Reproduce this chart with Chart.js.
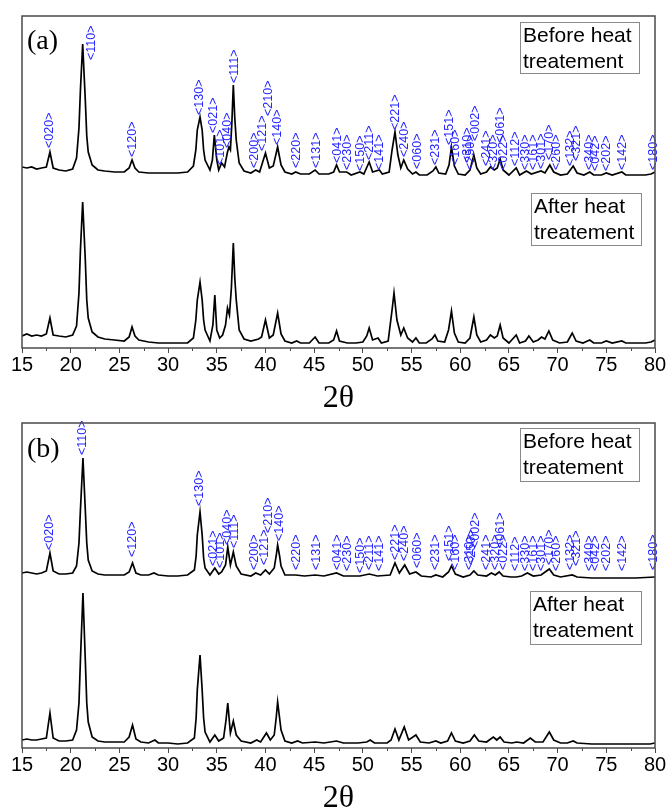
<!DOCTYPE html>
<html>
<head>
<meta charset="utf-8">
<script src="https://cdn.jsdelivr.net/npm/chart.js@4"></script>
<style>
  body { margin: 0; background: #fff; overflow: hidden; }
  canvas { position: absolute; left: 0; }
</style>
</head>
<body>
<canvas id="chartA" width="670" height="415" style="top:0"></canvas>
<canvas id="chartB" width="670" height="400" style="top:415px"></canvas>
<script>
// [2theta, intensity] (arbitrary units)
const aAfter = [[15.0,12],[15.5,14],[16.0,12],[16.5,13],[17.0,12],[17.5,14],[17.87,30],[18.2,13],[18.8,12],[19.5,11],
  [20.2,13],[20.6,22],[20.85,55],[21.0,98],[21.23,146],[21.5,88],[21.65,48],[21.8,30],[22.2,16],[22.8,11],[23.5,9],[24.5,8],
  [25.5,7],[26.0,11],[26.3,21],[26.6,12],[27.0,8],[28.0,6],[29.0,5],[30.0,5],[31.0,5],[32.0,5],
  [32.6,10],[32.85,28],[33.0,48],[33.28,66],[33.5,48],[33.65,28],[33.8,18],[34.3,7],[34.6,23],[34.8,53],[35.0,18],[35.3,10],
  [35.6,13],[35.9,23],[36.1,40],[36.3,33],[36.5,60],[36.7,105],[36.85,70],[37.0,48],[37.3,18],[37.8,9],[38.5,7],[39.3,9],
  [39.6,11],[40.0,28],[40.4,10],[40.8,13],[41.25,35],[41.6,14],[42.0,7],[42.7,5],[43.2,7],[43.6,5],
  [44.5,5],[45.1,11],[45.5,5],[46.5,5],[47.0,8],[47.3,17],[47.6,7],[48.4,5],[49.3,5],[50.0,6],
  [50.4,12],[50.65,20],[51.0,8],[51.56,10],[51.9,5],[52.6,7],[53.0,38],[53.2,55],[53.5,28],[53.9,13],
  [54.2,20],[54.6,10],[55.1,6],[55.45,10],[55.8,5],[56.5,5],[57.1,9],[57.4,13],[57.7,7],[58.4,6],
  [58.8,18],[59.1,37],[59.4,15],[59.8,6],[60.5,5],[61.0,10],[61.4,31],[61.7,13],[62.1,6],[62.7,8],
  [63.1,13],[63.5,10],[63.8,12],[64.1,23],[64.4,10],[65.0,5],[65.75,13],[66.1,5],[66.7,7],[67.05,12],
  [67.5,6],[68.0,8],[68.35,11],[68.7,9],[69.1,17],[69.5,8],[70.2,5],[71.0,6],[71.5,15],[71.9,7],
  [72.6,5],[73.3,8],[73.7,5],[74.5,5],[75.0,7],[75.6,5],[76.6,7],[77.0,5],[78.0,5],[79.0,5],[79.6,6],[80.0,8]];

const aBefore = [[15.0,11],[15.5,10],[16.0,11],[16.5,9],[17.0,10],[17.5,11],[17.87,26],[18.2,10],[18.8,8],[19.5,7],
  [20.2,9],[20.6,20],[20.85,50],[21.0,88],[21.23,134],[21.5,78],[21.65,42],[21.8,26],[22.2,13],[22.8,8],[23.5,7],[24.5,6],
  [25.5,6],[26.0,10],[26.3,18],[26.6,10],[27.0,6],[28.0,5],[29.0,5],[30.0,5],[31.0,5],[32.0,6],
  [32.6,12],[32.85,28],[33.0,48],[33.28,61],[33.5,48],[33.65,28],[33.8,18],[34.3,8],[34.55,18],[34.75,43],[35.0,18],[35.2,8],
  [35.5,15],[35.8,11],[36.1,26],[36.25,31],[36.4,28],[36.55,55],[36.7,93],[36.85,60],[37.0,38],[37.3,15],[37.8,7],[38.5,5],
  [39.0,8],[39.4,6],[40.0,25],[40.4,10],[40.8,12],[41.25,31],[41.6,13],[42.0,6],[42.7,4],[43.1,6],
  [43.6,4],[44.5,4],[45.1,8],[45.5,4],[46.5,4],[47.0,6],[47.3,13],[47.6,6],[48.35,6],[48.8,3],
  [49.7,6],[50.1,4],[50.65,16],[51.0,6],[51.7,8],[52.0,4],[52.7,6],[53.0,28],[53.3,46],[53.6,23],
  [53.9,10],[54.2,18],[54.6,9],[55.1,4],[55.45,6],[55.8,3],[56.6,3],[57.2,7],[57.5,11],[57.8,5],
  [58.5,4],[58.85,13],[59.1,31],[59.4,12],[59.8,4],[60.5,3],[61.0,8],[61.4,23],[61.7,10],[62.1,4],
  [62.7,6],[63.1,11],[63.5,8],[63.8,10],[64.1,19],[64.4,8],[65.0,3],[65.75,10],[66.1,3],[66.8,7],
  [67.3,4],[68.3,7],[68.7,5],[69.2,13],[69.6,6],[70.3,3],[71.0,4],[71.6,12],[72.0,5],[72.7,3],
  [73.3,6],[73.7,3],[74.5,3],[75.0,5],[75.6,3],[76.6,6],[77.0,3],[78.0,3],[79.0,3],[79.6,4],[80.0,6]];

const bAfter = [[15.0,8],[15.5,9],[16.0,8],[16.5,8],[17.0,9],[17.5,10],[17.87,35],[18.2,10],[18.8,7],[19.5,7],
  [20.2,8],[20.6,18],[20.85,45],[21.0,88],[21.26,155],[21.5,88],[21.65,45],[21.8,26],[22.2,11],[22.8,7],[23.5,6],[24.5,6],
  [25.5,6],[26.0,11],[26.35,23],[26.7,9],[27.2,6],[28.0,5],[28.65,8],[29.0,5],[30.0,5],[31.0,4],
  [32.0,5],[32.7,10],[32.88,30],[33.0,58],[33.28,93],[33.5,58],[33.65,30],[33.8,16],[34.3,6],[34.8,13],[35.2,7],[35.7,10],
  [35.95,28],[36.13,45],[36.4,15],[36.7,27],[37.0,13],[37.5,7],[38.5,5],[39.1,8],[39.5,6],[40.1,15],
  [40.5,8],[40.9,13],[41.1,30],[41.25,46],[41.45,30],[41.6,18],[42.0,7],[42.7,5],[43.3,7],[43.8,5],[45.1,6],[46.0,5],
  [47.3,7],[48.0,5],[49.5,5],[50.4,6],[50.75,8],[51.2,5],[52.5,5],[52.9,8],[53.3,19],[53.7,8],
  [54.25,21],[54.7,8],[55.45,13],[55.9,6],[56.8,5],[57.5,7],[58.0,5],[58.7,7],[59.1,15],[59.5,7],
  [60.3,5],[61.0,7],[61.45,13],[61.9,7],[62.7,6],[63.4,11],[63.75,8],[64.1,11],[64.5,6],[65.3,5],
  [65.8,6],[66.5,5],[67.2,10],[67.7,6],[68.5,6],[69.15,16],[69.6,8],[70.3,5],[71.0,5],[71.6,7],
  [72.0,5],[73.5,4],[75.0,4],[76.5,4],[78.0,4],[79.5,4],[80.0,5]];

const bBefore = [[15.0,5],[15.5,6],[16.0,5],[16.5,4],[17.0,5],[17.5,7],[17.87,25],[18.2,7],[18.8,4],[19.5,4],
  [20.2,5],[20.6,12],[20.85,35],[21.0,68],[21.26,120],[21.5,68],[21.65,35],[21.8,18],[22.2,7],[22.8,4],[23.5,3],[24.5,3],
  [25.5,3],[26.0,6],[26.35,15],[26.7,5],[27.2,3],[28.0,3],[28.55,5],[29.0,3],[30.0,2],[31.0,2],
  [32.0,3],[32.7,8],[32.88,22],[33.0,43],[33.28,66],[33.5,43],[33.65,20],[33.8,10],[34.3,3],[34.8,10],[35.2,4],[35.5,6],
  [35.9,13],[36.13,31],[36.4,13],[36.7,26],[37.0,12],[37.5,4],[38.5,2],[39.0,5],[39.5,3],[40.0,8],
  [40.4,4],[40.9,10],[41.1,22],[41.25,33],[41.45,22],[41.6,12],[42.0,3],[43.1,3],[44.0,2],[45.1,3],[46.0,2],[47.3,5],
  [48.0,2],[49.7,2],[50.65,4],[51.5,2],[52.8,3],[53.3,15],[53.75,5],[54.3,13],[54.8,4],[55.45,6],
  [56.0,2],[57.0,1],[57.5,3],[58.2,1],[58.8,6],[59.1,12],[59.5,4],[60.3,1],[61.0,3],[61.4,7],
  [61.8,3],[62.7,2],[63.2,5],[63.6,3],[64.0,6],[64.4,2],[65.2,1],[65.75,1],[66.3,2],[66.9,5],
  [67.5,2],[68.3,3],[69.15,9],[69.6,3],[70.3,1],[71.5,3],[72.0,1],[73.5,0],[75.0,0],[76.6,0],
  [78.0,0],[80.0,1]];

// Miller indices: [label, 2theta, level above the "before" trace]
const aPeaks = [['<020>',17.87,28],['<110>',22.1,116],['<120>',26.4,19],['<130>',33.2,61],['<021>',34.7,43],
  ['<101>',35.4,11],['<040>',36.1,28],['<111>',36.8,93],['<200>',38.9,8],['<121>',39.75,25],['<210>',40.3,60],
  ['<140>',41.25,31],['<220>',43.2,8],['<131>',45.25,8],['<041>',47.4,13],['<230>',48.4,6],['<150>',49.8,5],
  ['<211>',50.7,16],['<141>',51.7,6],['<221>',53.4,46],['<240>',54.3,19],['<060>',55.6,7],['<231>',57.5,11],
  ['<151>',58.95,31],['<160>',59.55,11],['<310>',60.7,13],['<250>',61.1,6],['<002>',61.6,35],['<241>',62.7,10],
  ['<320>',63.4,6],['<061>',64.1,33],['<022>',64.4,6],['<112>',65.7,10],['<330>',66.7,6],['<161>',67.5,6],
  ['<301>',68.35,7],['<170>',69.15,16],['<260>',69.85,6],['<132>',71.3,10],['<321>',71.9,15],['<340>',73.25,6],
  ['<042>',73.9,5],['<202>',75.0,5],['<142>',76.65,6],['<180>',79.9,6]];

const bPeaks = [['<020>',17.87,26],['<110>',21.26,121],['<120>',26.4,19],['<130>',33.28,70],['<021>',34.7,10],
  ['<101>',35.4,8],['<040>',36.1,31],['<111>',36.8,28],['<200>',38.9,6],['<121>',39.9,11],['<210>',40.3,43],
  ['<140>',41.4,35],['<220>',43.2,6],['<131>',45.25,6],['<041>',47.4,6],['<230>',48.4,5],['<150>',49.8,3],
  ['<211>',50.7,6],['<141>',51.7,5],['<221>',53.4,16],['<240>',54.3,15],['<060>',55.6,8],['<231>',57.5,6],
  ['<151>',58.95,15],['<160>',59.55,6],['<310>',60.95,6],['<250>',61.15,11],['<002>',61.6,28],['<241>',62.7,6],
  ['<320>',63.6,6],['<061>',64.1,28],['<022>',64.4,6],['<112>',65.7,5],['<330>',66.7,5],['<161>',67.5,5],
  ['<301>',68.35,5],['<170>',69.15,11],['<260>',69.85,5],['<132>',71.3,6],['<321>',71.9,10],['<340>',73.25,5],
  ['<042>',73.9,5],['<202>',75.0,5],['<142>',76.65,5],['<180>',79.9,6]];

const xTicks = [15, 20, 25, 30, 35, 40, 45, 50, 55, 60, 65, 70, 75, 80];
const legendLines = [['Before heat', 'treatement'], ['After heat', 'treatement']];

const BEFORE_OFFSET = 170;
const SANS = '"Liberation Sans", Arial, sans-serif';
const SERIF = '"Liberation Serif", "Times New Roman", serif';

const panelDecor = {
  id: 'panelDecor',
  afterDatasetsDraw(chart, args, opts) {
    const { ctx, chartArea: area, scales: { x, y } } = chart;
    ctx.save();

    // hkl labels, rotated
    ctx.fillStyle = '#2424ff';
    ctx.font = '12.5px ' + SANS;
    ctx.textAlign = 'left';
    ctx.textBaseline = 'middle';
    opts.peaks.forEach(([txt, pos, lvl]) => {
      ctx.save();
      ctx.translate(x.getPixelForValue(pos), y.getPixelForValue(lvl + BEFORE_OFFSET) - 2);
      ctx.rotate(-Math.PI / 2);
      ctx.fillText(txt, 0, 0);
      ctx.restore();
    });

    // frame
    ctx.strokeStyle = '#4a4a4a';
    ctx.lineWidth = 1.5;
    ctx.strokeRect(area.left, area.top, area.right - area.left, area.bottom - area.top);

    // minor ticks
    ctx.lineWidth = 1;
    for (let i = 0; i < xTicks.length - 1; i++) {
      const px = Math.round(x.getPixelForValue((xTicks[i] + xTicks[i + 1]) / 2)) + 0.5;
      ctx.beginPath();
      ctx.moveTo(px, area.bottom);
      ctx.lineTo(px, area.bottom + 3);
      ctx.stroke();
    }

    // panel tag
    ctx.fillStyle = '#000';
    ctx.font = '28px ' + SERIF;
    ctx.textBaseline = 'middle';
    ctx.fillText(opts.tag, area.left + 5, area.top + opts.tagDy);

    // legend boxes
    ctx.font = '21px ' + SANS;
    opts.boxes.forEach((b, i) => {
      ctx.strokeStyle = '#8a8a8a';
      ctx.lineWidth = 1;
      ctx.strokeRect(b.x + 0.5, b.y + 0.5, b.w, b.h);
      ctx.fillStyle = '#000';
      ctx.fillText(legendLines[i][0], b.x + 3, b.y + 14);
      ctx.fillText(legendLines[i][1], b.x + 3, b.y + 40);
    });
    ctx.restore();
  }
};

function toPoints(pairs, offset) {
  return pairs.map(([t, v]) => ({ x: t, y: v + offset }));
}

function makePanel(id, after, before, peaks, yMax, padTop, tag, tagDy, boxes) {
  return new Chart(document.getElementById(id), {
    type: 'line',
    data: {
      datasets: [
        { data: toPoints(before, BEFORE_OFFSET), borderColor: '#000', borderWidth: 1.7, pointRadius: 0, tension: 0 },
        { data: toPoints(after, 0), borderColor: '#000', borderWidth: 1.7, pointRadius: 0, tension: 0 }
      ]
    },
    options: {
      responsive: false,
      animation: false,
      devicePixelRatio: 1,
      layout: { padding: { left: 22, right: 15, top: padTop, bottom: 0 } },
      plugins: {
        legend: { display: false },
        tooltip: { enabled: false },
        panelDecor: { peaks, tag, tagDy, boxes }
      },
      scales: {
        x: {
          type: 'linear',
          min: 15,
          max: 80,
          afterBuildTicks: (s) => { s.ticks = xTicks.map((v) => ({ value: v })); },
          ticks: { color: '#000', font: { family: SANS, size: 20 }, padding: 0, maxRotation: 0, autoSkip: false },
          grid: { drawOnChartArea: false, tickLength: 5, color: '#4a4a4a' },
          border: { display: false },
          title: { display: true, text: '2θ', color: '#000', font: { family: SERIF, size: 32, lineHeight: 1 }, padding: 0 },
          afterFit: (s) => { s.height = 67; }
        },
        y: { display: false, min: 0, max: yMax }
      }
    },
    plugins: [panelDecor]
  });
}

makePanel('chartA', aAfter, aBefore, aPeaks, 332, 16, '(a)', 26,
  [{ x: 520, y: 22, w: 119, h: 51 }, { x: 531, y: 193, w: 110, h: 52 }]);
makePanel('chartB', bAfter, bBefore, bPeaks, 325, 8, '(b)', 27,
  [{ x: 520, y: 13, w: 119, h: 53 }, { x: 530, y: 176, w: 111, h: 53 }]);
</script>
</body>
</html>
